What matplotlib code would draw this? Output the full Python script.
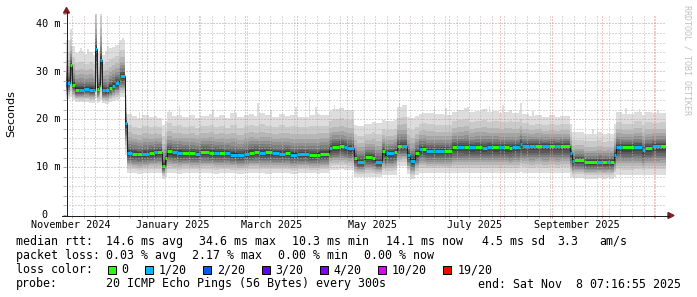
import matplotlib
matplotlib.use("Agg")
import matplotlib.pyplot as plt
import matplotlib.dates as mdates
import matplotlib.transforms as mtransforms
from matplotlib.ticker import MultipleLocator
from matplotlib.lines import Line2D
from matplotlib.patches import Polygon, Rectangle
from datetime import datetime

# ---------------- data ----------------
start_time = '2024-11-13 07:16:55'
end_time = '2025-11-08 07:16:55'

step_start = [
    '2024-11-13 07:16', '2024-11-16', '2024-11-17', '2024-11-19', '2024-11-21',
    '2024-11-24', '2024-11-27', '2024-11-29 12:00', '2024-12-01', '2024-12-02',
    '2024-12-03', '2024-12-03 18:00', '2024-12-05', '2024-12-07', '2024-12-09',
    '2024-12-11', '2024-12-13', '2024-12-15', '2024-12-16', '2024-12-18 12:00',
    '2024-12-20', '2024-12-23', '2024-12-26', '2024-12-29', '2025-01-02',
    '2025-01-05', '2025-01-07', '2025-01-10', '2025-01-11 12:00', '2025-01-13',
    '2025-01-16', '2025-01-19', '2025-01-22', '2025-01-26', '2025-01-30',
    '2025-02-02', '2025-02-07', '2025-02-10', '2025-02-13', '2025-02-17',
    '2025-02-20', '2025-02-24', '2025-02-28', '2025-03-03', '2025-03-06',
    '2025-03-09', '2025-03-13', '2025-03-17', '2025-03-21', '2025-03-25',
    '2025-03-28', '2025-04-01', '2025-04-08', '2025-04-13', '2025-04-15',
    '2025-04-20', '2025-04-22', '2025-04-26', '2025-04-29', '2025-05-01',
    '2025-05-05', '2025-05-07', '2025-05-11', '2025-05-12', '2025-05-16',
    '2025-05-18', '2025-05-22', '2025-05-23 12:00', '2025-05-24 12:00', '2025-05-29',
    '2025-05-31', '2025-06-03', '2025-06-06', '2025-06-07 12:00', '2025-06-11',
    '2025-06-13', '2025-06-15', '2025-06-17 12:00', '2025-06-22', '2025-06-23',
    '2025-06-28', '2025-07-03', '2025-07-06', '2025-07-10', '2025-07-13',
    '2025-07-17', '2025-07-21', '2025-07-24', '2025-07-27', '2025-07-31',
    '2025-08-03', '2025-08-06', '2025-08-08', '2025-08-12', '2025-08-13',
    '2025-08-14', '2025-08-18', '2025-08-22', '2025-08-26', '2025-08-30',
    '2025-09-03', '2025-09-06', '2025-09-12', '2025-09-13', '2025-09-14',
    '2025-09-20', '2025-09-28', '2025-10-01', '2025-10-04', '2025-10-06',
    '2025-10-08', '2025-10-09 12:00', '2025-10-13', '2025-10-20', '2025-10-25',
    '2025-10-27', '2025-10-31', '2025-11-05',
]

median_ms = [
    27.6, 31.3, 27.2, 26.2, 26.2, 26.3, 26.2, 26.1, 34.7, 26.4,
    27.0, 32.4, 26.1, 26.0, 26.6, 27.0, 27.6, 28.3, 29.0, 19.3,
    13.0, 12.8, 12.7, 12.8, 13.0, 13.1, 13.2, 10.3, 11.8, 13.3,
    13.1, 13.0, 13.0, 12.9, 12.8, 13.2, 13.0, 13.0, 12.9, 12.9,
    12.6, 12.5, 12.8, 13.0, 13.2, 13.0, 13.1, 12.9, 12.8, 13.0,
    12.6, 12.7, 12.5, 12.6, 12.8, 13.9, 14.2, 14.4, 14.2, 13.9,
    11.9, 11.1, 11.3, 12.15, 11.9, 11.1, 13.3, 12.2, 12.85, 13.2,
    14.4, 14.4, 12.5, 11.35, 12.85, 13.75, 13.75, 13.4, 13.4, 13.4,
    13.4, 14.2, 14.2, 14.2, 14.1, 14.2, 14.0, 14.2, 14.1, 14.2,
    14.1, 14.0, 14.2, 14.2, 14.85, 14.45, 14.45, 14.45, 14.4, 14.45,
    14.45, 14.45, 13.0, 11.25, 11.5, 11.1, 11.1, 11.1, 11.0, 11.1,
    12.5, 14.2, 14.2, 14.2, 13.5, 14.0, 14.4, 14.4,
]

loss_idx = [
    1, 0, 0, 0, 1, 1, 1, 1, 1, 0,
    0, 1, 1, 1, 0, 1, 1, 0, 1, 1,
    1, 0, 0, 1, 0, 1, 0, 0, 0, 0,
    1, 1, 0, 0, 1, 0, 0, 1, 0, 1,
    1, 1, 1, 0, 0, 1, 0, 1, 1, 0,
    1, 1, 0, 0, 0, 1, 0, 0, 1, 1,
    0, 1, 0, 0, 0, 1, 0, 0, 1, 0,
    0, 1, 1, 1, 0, 1, 0, 1, 0, 1,
    0, 0, 1, 0, 1, 0, 1, 1, 0, 1,
    0, 0, 1, 0, 1, 1, 1, 0, 1, 0,
    1, 0, 1, 1, 0, 0, 1, 0, 1, 0,
    1, 1, 0, 1, 1, 0, 1, 0,
]

smoke_lo = [
    24.2, 24.6, 24.0, 23.6, 23.5, 23.6, 23.4, 23.4, 24.5, 23.4,
    23.6, 24.0, 23.3, 23.2, 23.5, 23.8, 24.0, 24.3, 24.6, 12.5,
    8.8, 8.7, 8.6, 8.7, 8.8, 8.7, 8.8, 7.6, 8.0, 8.8,
    8.7, 8.6, 8.8, 8.7, 8.8, 8.7, 8.8, 8.6, 8.7, 8.8,
    8.7, 8.6, 8.7, 8.8, 8.7, 8.7, 8.6, 8.7, 8.8, 8.7,
    8.6, 8.7, 8.7, 8.6, 8.7, 9.3, 9.4, 9.5, 9.4, 9.3,
    8.0, 8.0, 8.0, 8.0, 8.0, 8.0, 8.3, 8.3, 8.3, 8.4,
    10.2, 10.3, 8.5, 7.6, 8.3, 8.8, 8.8, 8.8, 8.8, 8.8,
    8.8, 8.8, 8.8, 8.7, 8.8, 8.7, 8.8, 8.7, 8.8, 8.7,
    8.8, 8.7, 8.8, 8.7, 9.0, 8.8, 8.7, 8.8, 8.7, 8.8,
    8.7, 8.8, 8.0, 7.7, 7.7, 7.6, 7.7, 7.6, 7.7, 7.6,
    8.0, 8.4, 8.3, 8.4, 8.3, 8.4, 8.3, 8.4,
]

smoke_hi = [
    36.6, 38.9, 35.2, 33.8, 34.3, 33.6, 34.1, 33.5, 45.0, 33.8,
    34.3, 45.0, 33.5, 34.2, 34.8, 35.0, 35.4, 36.2, 36.6, 25.0,
    21.0, 20.6, 20.3, 20.9, 20.4, 20.7, 20.3, 18.8, 19.6, 21.4,
    20.6, 20.9, 20.5, 20.8, 20.3, 20.6, 21.1, 20.4, 20.8, 20.3,
    21.2, 20.5, 20.8, 21.0, 20.6, 21.3, 20.8, 20.5, 21.0, 20.6,
    20.9, 20.5, 20.8, 21.0, 20.9, 21.8, 22.2, 22.4, 21.9, 22.0,
    18.8, 18.6, 18.7, 18.9, 19.4, 19.2, 19.8, 19.6, 19.7, 19.9,
    22.6, 22.9, 20.5, 20.3, 20.6, 21.0, 21.2, 21.2, 21.0, 21.0,
    20.9, 21.6, 21.9, 22.3, 21.4, 21.8, 22.1, 21.5, 21.8, 21.3,
    21.6, 21.9, 21.3, 21.7, 22.0, 21.0, 20.6, 20.9, 20.5, 20.8,
    20.4, 20.7, 19.0, 17.3, 17.4, 17.0, 17.3, 16.9, 17.2, 17.0,
    19.0, 21.4, 21.0, 21.6, 20.9, 21.5, 21.2, 21.3,
]

spike_day = [
    '2024-11-22', '2024-11-26', '2024-12-08', '2024-12-17', '2024-12-27',
    '2025-01-14', '2025-01-20', '2025-02-09', '2025-02-22', '2025-03-08',
    '2025-03-16', '2025-03-31', '2025-04-08', '2025-04-12', '2025-04-23',
    '2025-06-01', '2025-06-22', '2025-06-29', '2025-07-12', '2025-07-25',
    '2025-08-02', '2025-08-13', '2025-08-20', '2025-09-25', '2025-10-15',
    '2025-10-23', '2025-11-03',
]
spike_top = [
    34.8, 34.6, 35.2, 37.0, 21.6,
    22.0, 23.0, 21.9, 22.0, 23.3,
    22.0, 22.5, 24.5, 22.6, 23.0,
    23.3, 22.8, 22.3, 22.6, 22.7,
    23.0, 23.3, 21.8, 18.0, 22.3,
    22.2, 22.0,
]

loss_labels = ['0', '1/20', '2/20', '3/20', '4/20', '10/20', '19/20']
loss_colors = ['#26ff00', '#00b8ff', '#0059ff', '#5e00ff', '#7e00ff', '#dd00ff', '#ff0000']

y_ticks = [0, 10, 20, 30, 40]
y_tick_labels = ['0', '10 m', '20 m', '30 m', '40 m']
x_label_months = [(2024, 11), (2025, 1), (2025, 3), (2025, 5), (2025, 7), (2025, 9)]
x_labels = ['November 2024', 'January 2025', 'March 2025', 'May 2025', 'July 2025', 'September 2025']

legend_rows = [
    [('median rtt:', 16), ('14.6 ms avg', 106), ('34.6 ms max', 199), ('10.3 ms min', 292),
     ('14.1 ms now', 385.5), ('4.5 ms sd', 482.5), ('3.3', 557), ('am/s', 599.5)],
    [('packet loss:', 16), ('0.03 % avg', 106.3), ('2.17 % max', 191.7), ('0.00 % min', 278.3),
     ('0.00 % now', 364)],
    [('loss color:', 16)],
    [('probe:', 15.5), ('20 ICMP Echo Pings (56 Bytes) every 300s', 106.3),
     ('end: Sat Nov  8 07:16:55 2025', 478)],
]
legend_baselines = [245, 259.3, 273.3, 287.5]
loss_box_x = [108.3, 145, 203.3, 262.3, 320, 377.7, 443.3]
loss_text_x = [121.7, 159, 217.3, 275.7, 333.3, 391.7, 457.3]

# smoke band shape (fraction of distance from median to outer edge)
LO_FRAC = [1.0, 0.80, 0.68, 0.58, 0.50, 0.42, 0.34, 0.25, 0.16, 0.07]
HI_FRAC = [1.0, 0.72, 0.53, 0.40, 0.30, 0.22, 0.15, 0.10, 0.06, 0.03]

# ---------------- figure ----------------
W, H = 697, 297
MONO = 'DejaVu Sans Mono'
fig = plt.figure(figsize=(W / 100, H / 100), dpi=100, facecolor='white')


def fx(x):
    return x / W


def fy(y):
    return 1 - y / H


YMAX = 42.0
PX_PER_MS = 4.79
ax = fig.add_axes([fx(66), fy(215), 600 / W, YMAX * PX_PER_MS / H])
ax.set_facecolor('white')

t0 = mdates.date2num(datetime.fromisoformat(start_time))
t1 = mdates.date2num(datetime.fromisoformat(end_time))
ts = [mdates.date2num(datetime.fromisoformat(s)) for s in step_start]
tx = ts + [t1]


def ext(a):
    return list(a) + [a[-1]]


# spikes of the lightest smoke
for d, top in zip(spike_day, spike_top):
    dn = mdates.date2num(datetime.fromisoformat(d))
    ax.bar(dn, 5.0, bottom=top - 5.0, width=1.0, align='edge', color='#dddddd',
           linewidth=0, zorder=0.9)

# smoke bands
for i in range(10):
    g = 221 - 19 * i
    col = '#%02x%02x%02x' % (g, g, g)
    lower = [m - LO_FRAC[i] * (m - lo) for m, lo in zip(median_ms, smoke_lo)]
    upper = [m + HI_FRAC[i] * (hi - m) for m, hi in zip(median_ms, smoke_hi)]
    ax.fill_between(tx, ext(lower), ext(upper), step='post', color=col,
                    linewidth=0, zorder=1 + i * 0.01)

ax.set_xlim(t0, t1)
ax.set_ylim(0, YMAX)
for s in ax.spines.values():
    s.set_visible(False)

# grid (drawn over the smoke, under the median line)
grid_minor = '#b4b4b4'
grid_major = '#e68a8a'
ax.xaxis.set_major_locator(mdates.MonthLocator())
ax.xaxis.set_minor_locator(mdates.WeekdayLocator(byweekday=mdates.SU))
ax.yaxis.set_major_locator(MultipleLocator(10))
ax.yaxis.set_minor_locator(MultipleLocator(2))
ax.tick_params(which='minor', length=2.2, width=0.72, color=grid_minor, direction='out',
               labelbottom=False, labelleft=False)
ax.tick_params(which='major', length=2.2, width=0.72, color=grid_major, direction='out',
               labelbottom=False, labelleft=False)
major_x = list(ax.xaxis.get_majorticklocs())
minor_x = [v for v in ax.xaxis.get_minorticklocs()
           if min(abs(v - m) for m in major_x) > 0.5]
gkw = dict(linestyle=(0, (1, 2)), linewidth=0.72, snap=True, zorder=2.5)
for v in minor_x:
    ax.axvline(v, color=grid_minor, **gkw)
for v in range(2, 42, 2):
    if v % 10:
        ax.axhline(v, color=grid_minor, **gkw)
for v in major_x:
    ax.axvline(v, color=grid_major, **gkw)
for v in (10, 20, 30, 40):
    ax.axhline(v, color=grid_major, **gkw)

# median line: thin dark line plus loss-coloured thick segments
ax.step(tx, ext(median_ms), where='post', color='#202020', linewidth=0.72, zorder=3)
ax.hlines(median_ms, ts, tx[1:], colors=[loss_colors[c] for c in loss_idx],
          linewidth=2.16, zorder=4, capstyle='butt')

# y tick labels
ytrans = mtransforms.offset_copy(
    mtransforms.blended_transform_factory(fig.transFigure, ax.transData),
    fig=fig, x=0, y=-3.3, units='dots')
for v, lab in zip(y_ticks, y_tick_labels):
    xr = 60.5 if lab != '0' else 47.0
    ax.text(fx(xr), v, lab, transform=ytrans, ha='right', va='baseline',
            fontsize=7.3, family=MONO, color='black')

# x tick labels (centred on the month)
xtrans = mtransforms.blended_transform_factory(ax.transData, fig.transFigure)
for (yy, mm), lab in zip(x_label_months, x_labels):
    a = datetime(yy, mm, 1)
    b = datetime(yy + (mm // 12), mm % 12 + 1, 1)
    mid = (mdates.date2num(a) + mdates.date2num(b)) / 2
    ax.text(mid, fy(228), lab, transform=xtrans, ha='center', va='baseline',
            fontsize=7.3, family=MONO, color='black', clip_on=False)

# axes lines and arrows
axis_col = '#1f1f1f'
arrow_col = '#801f1f'
fig.add_artist(Line2D([fx(66.5), fx(66.5)], [fy(215.5), fy(12)], color=axis_col,
                      linewidth=0.72, transform=fig.transFigure))
fig.add_artist(Line2D([fx(62), fx(669)], [fy(215.5), fy(215.5)], color=axis_col,
                      linewidth=0.72, transform=fig.transFigure))
fig.add_artist(Polygon([(fx(63.5), fy(13)), (fx(69.5), fy(13)), (fx(66.5), fy(7.5))],
                       closed=True, color=arrow_col, transform=fig.transFigure))
fig.add_artist(Polygon([(fx(668), fy(212.5)), (fx(668), fy(218.5)), (fx(674), fy(215.5))],
                       closed=True, color=arrow_col, transform=fig.transFigure))

# vertical axis title and watermark
fig.text(fx(11), fy(113.5), 'Seconds', rotation=90, ha='center', va='center',
         fontsize=8, family='DejaVu Sans', color='black')
fig.text(fx(687.5), fy(60), 'RRDTOOL / TOBI OETIKER', rotation=270, ha='center',
         va='center', fontsize=6, family=MONO, color='#c0c0c0')

# legend
for row, base in zip(legend_rows, legend_baselines):
    for txt, x in row:
        fig.text(fx(x), fy(base), txt, ha='left', va='baseline', fontsize=8.35,
                 family=MONO, color='black')
for bx, tx_, col, lab in zip(loss_box_x, loss_text_x, loss_colors, loss_labels):
    fig.add_artist(Rectangle((fx(bx), fy(273.5)), 8 / W, 8 / H, facecolor=col,
                             edgecolor='black', linewidth=0.72, transform=fig.transFigure))
    fig.text(fx(tx_), fy(273.3), lab, ha='left', va='baseline', fontsize=8.35,
             family=MONO, color='black')

fig.savefig('out.png', dpi=100, facecolor='white')
